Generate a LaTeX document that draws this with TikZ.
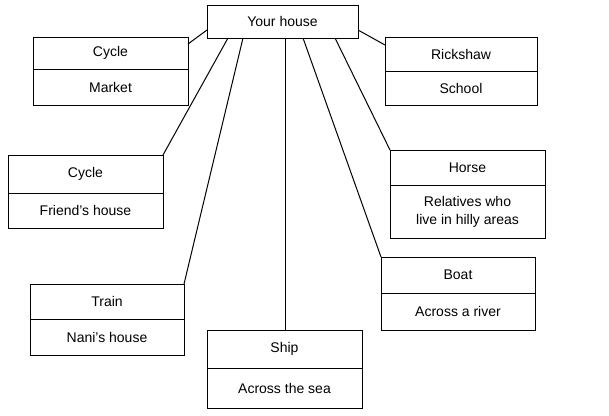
\documentclass[tikz,border=0pt]{standalone}
\usepackage{fontspec}
\setmainfont{Liberation Sans}
\usetikzlibrary{positioning}
\tikzstyle{line} = [draw, line width=1pt]
\tikzstyle{box} = [rectangle, draw, line width=1pt, minimum width=155pt, align=center, inner sep=0pt, outer sep=0pt, font=\fontsize{14}{18}\selectfont]
\begin{document}
\begin{tikzpicture}[x=1pt, y=-1pt]
	\useasboundingbox (0,0) rectangle (609,415);
	
	\node [box, minimum width=151pt, minimum height=33pt] (home) at (282.5,21.5) {Your house};
	
	\node [box, minimum height=32pt] (cyc1) at (110.5,53) {Cycle};
	\node [box, minimum height=36pt, below=0pt of cyc1] (market) {Market};
	\node [box, minimum height=34pt, minimum width=152pt] (rick) at (461,54) {Rickshaw};
	\node [box, minimum height=34pt, minimum width=152pt, below=0pt of rick] (school) {School};
	\node [box, minimum height=38pt] (cyc2) at (85.5,174) {Cycle};
	\node [box, minimum height=35pt, below=0pt of cyc2] (friend) {Friend's house};
	\node [box, minimum height=35pt] (horse) at (467.5,167.5) {Horse};
	\node [box, minimum height=53pt, below=0pt of horse] (rel) {Relatives who\\live in hilly areas};
	\node [box, minimum height=35pt, minimum width=154pt] (train) at (107,301.5) {Train};
	\node [box, minimum height=36pt, minimum width=154pt, below=0pt of train] (nani) {Nani's house};
	\node [box, minimum height=36pt, minimum width=154pt] (boat) at (458,275) {Boat};
	\node [box, minimum height=37pt, minimum width=154pt, below=0pt of boat] (river) {Across a river};
	\node [box, minimum height=38pt] (ship) at (284.5,349) {Ship};
	\node [box, minimum height=40pt, below=0pt of ship] (sea) {Across the sea};
	
	\coordinate (h1) at (207,30);
	\coordinate (h2) at (228,38);
	\coordinate (h3) at (243,38);
	\coordinate (h4) at (285,38);
	\coordinate (h5) at (303,38);
	\coordinate (h6) at (335,38);
	\coordinate (h7) at (358,30);
	
	\path [line] (h1) -- (cyc1.north east |- 0,44);
	\path [line] (h2) -- (cyc2.north east);
	\path [line] (h3) -- (train.north east);
	\path [line] (h4) -- (h4 |- ship.north);
	\path [line] (h5) -- (boat.north west);
	\path [line] (h6) -- (horse.north west);
	\path [line] (h7) -- (rick.north west |- 0,45);
\end{tikzpicture}
\end{document}
